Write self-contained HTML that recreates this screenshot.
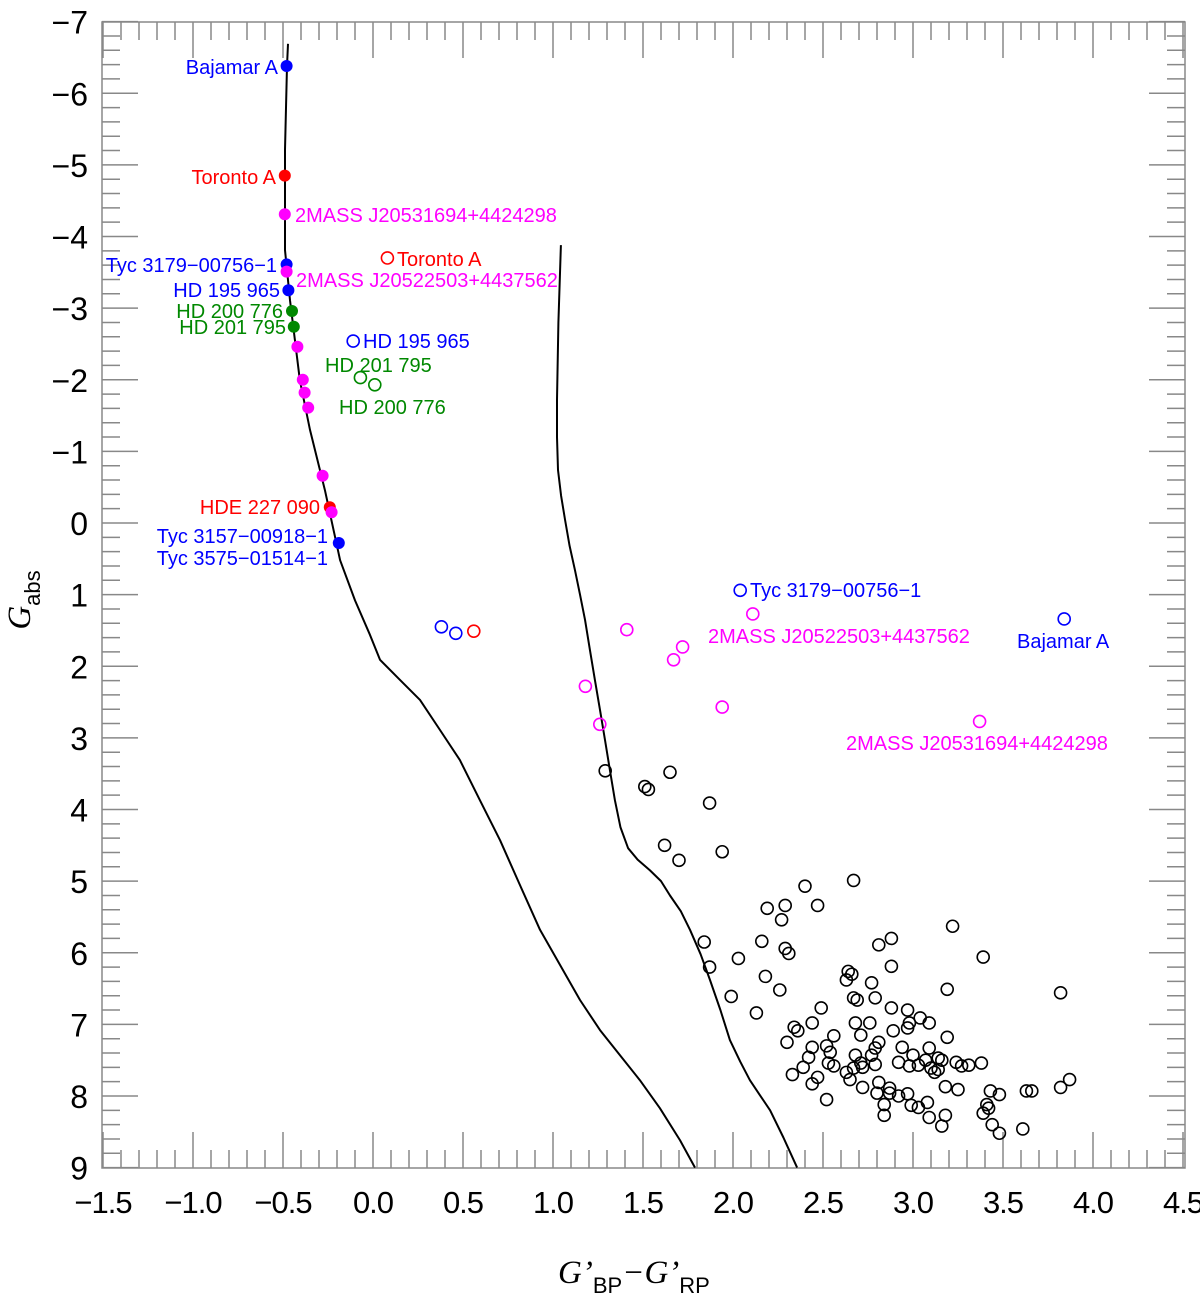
<!DOCTYPE html>
<html><head><meta charset="utf-8"><style>
body{margin:0;background:#fff}
svg{display:block;font-family:"Liberation Sans",sans-serif}
</style></head><body>
<svg id="chart" width="1200" height="1299" viewBox="0 0 1200 1299">
<g id="frame"></g><g id="curves"></g><g id="marks"></g><g id="labels"></g>
</svg>
<script>
const xTicks=[-1.5,-1.0,-0.5,0.0,0.5,1.0,1.5,2.0,2.5,3.0,3.5,4.0,4.5];
const yTicks=[-7,-6,-5,-4,-3,-2,-1,0,1,2,3,4,5,6,7,8,9];
const iso1X=[-0.472,-0.478,-0.489,-0.489,-0.461,-0.406,-0.35,-0.267,-0.183,-0.1,-0.017,0.039,0.15,0.261,0.372,0.483,0.594,0.706,0.817,0.928,1.039,1.15,1.261,1.372,1.483,1.594,1.706,1.789];
const iso1Y=[-6.69,-6.38,-5.21,-3.81,-3.11,-1.99,-1.30,-0.46,0.52,1.08,1.56,1.91,2.19,2.47,2.89,3.31,3.87,4.43,5.06,5.68,6.17,6.66,7.08,7.43,7.78,8.17,8.62,9.0];
const iso2X=[1.044,1.03,1.022,1.022,1.028,1.045,1.067,1.092,1.122,1.15,1.178,1.205,1.233,1.261,1.289,1.316,1.344,1.375,1.417,1.47,1.539,1.60,1.65,1.71,1.761,1.82,1.872,1.93,1.983,2.04,2.094,2.15,2.206,2.28,2.356];
const iso2Y=[-3.88,-2.8,-1.72,-1.2,-0.74,-0.38,-0.04,0.32,0.66,1.0,1.35,1.77,2.19,2.61,3.03,3.45,3.87,4.25,4.54,4.70,4.85,5.0,5.20,5.42,5.68,6.02,6.38,6.80,7.22,7.52,7.78,7.99,8.20,8.58,9.0];
const blackX=[1.29,1.51,1.53,1.65,1.87,1.62,1.70,1.94,2.67,2.40,2.47,2.19,2.29,2.27,3.22,1.84,2.16,2.88,2.81,2.29,2.31,3.39,2.03,1.87,2.88,2.64,2.66,2.18,2.26,2.63,2.77,3.19,3.82,1.99,2.67,2.69,2.79,2.49,2.88,2.97,2.13,2.98,2.68,2.76,3.04,3.09,2.44,2.34,2.36,2.71,2.89,2.97,3.19,2.56,2.81,2.30,2.52,2.44,2.94,2.79,3.09,2.54,2.68,2.77,3.00,3.14,3.07,3.16,2.42,2.92,2.71,3.24,2.53,2.56,2.67,2.72,2.79,2.98,3.03,3.10,3.14,3.31,3.38,3.27,2.39,2.63,3.12,2.47,2.33,2.65,2.81,3.87,2.72,2.87,3.18,3.25,3.63,3.66,3.82,2.44,2.87,2.92,2.97,2.80,3.43,3.48,3.08,2.99,3.03,2.84,2.52,3.41,3.39,3.18,3.42,2.84,3.09,3.44,3.16,3.61,3.48];
const blackY=[3.46,3.68,3.72,3.48,3.91,4.50,4.71,4.59,4.99,5.07,5.34,5.38,5.34,5.54,5.63,5.85,5.84,5.80,5.89,5.94,6.01,6.06,6.08,6.20,6.19,6.26,6.30,6.33,6.52,6.38,6.42,6.51,6.56,6.61,6.63,6.66,6.63,6.77,6.77,6.80,6.84,6.98,6.98,6.98,6.91,6.98,6.98,7.04,7.09,7.15,7.09,7.05,7.18,7.16,7.25,7.25,7.30,7.32,7.32,7.33,7.33,7.39,7.43,7.43,7.43,7.47,7.50,7.50,7.46,7.53,7.54,7.53,7.54,7.58,7.61,7.60,7.56,7.58,7.57,7.61,7.63,7.57,7.54,7.58,7.60,7.67,7.67,7.74,7.70,7.77,7.81,7.77,7.88,7.89,7.87,7.91,7.93,7.93,7.88,7.83,7.96,8.00,7.97,7.96,7.93,7.98,8.09,8.13,8.16,8.12,8.05,8.12,8.24,8.27,8.17,8.27,8.30,8.40,8.42,8.46,8.52];
const openX=[1.18,1.26,1.41,1.67,1.72,1.94,2.11,3.37,0.38,0.46,2.04,3.84,-0.11,0.56,0.08,-0.07,0.01];
const openY=[2.28,2.81,1.49,1.91,1.73,2.57,1.27,2.77,1.45,1.54,0.94,1.34,-2.54,1.51,-3.70,-2.03,-1.93];
const openC=["#f0f","#f0f","#f0f","#f0f","#f0f","#f0f","#f0f","#f0f","#00f","#00f","#00f","#00f","#00f","#f00","#f00","#080","#080"];
const filledX=[-0.48,-0.49,-0.49,-0.48,-0.48,-0.47,-0.45,-0.44,-0.42,-0.39,-0.38,-0.36,-0.28,-0.24,-0.23,-0.19];
const filledY=[-6.38,-4.85,-4.31,-3.61,-3.51,-3.25,-2.96,-2.74,-2.46,-2.00,-1.82,-1.61,-0.66,-0.22,-0.15,0.28];
const filledC=["#00f","#f00","#f0f","#00f","#f0f","#00f","#080","#080","#f0f","#f0f","#f0f","#f0f","#f0f","#f00","#f0f","#00f"];

const L=102,R=1185,T=22,B=1168;
const sx=v=>373+v*180, sy=v=>523+v*71.625;
const NS="http://www.w3.org/2000/svg";
function mk(tag,at,parent){const e=document.createElementNS(NS,tag);for(const k in at)e.setAttribute(k,at[k]);document.getElementById(parent).appendChild(e);return e;}

let fr=mk('rect',{x:L,y:T,width:R-L,height:B-T,fill:'none',stroke:'#888','stroke-width':1.5},'frame');


for(let i=0;i<=60;i++){const v=-1.5+i*0.1;const x=sx(v);const len=(i%5==0)?36:18;
 mk('line',{x1:x,y1:B,x2:x,y2:B-len,stroke:'#888','stroke-width':1.5},'frame');
 mk('line',{x1:x,y1:T,x2:x,y2:T+len,stroke:'#888','stroke-width':1.5},'frame');}
for(let i=0;i<=80;i++){const v=-7+i*0.2;const y=sy(v);const len=(i%5==0)?36:18;
 mk('line',{x1:L,y1:y,x2:L+len,y2:y,stroke:'#888','stroke-width':1.5},'frame');
 mk('line',{x1:R,y1:y,x2:R-len,y2:y,stroke:'#888','stroke-width':1.5},'frame');}
xTicks.forEach(v=>{const t=mk('text',{x:sx(v),y:1213,'font-size':31,'text-anchor':'middle','letter-spacing':-1},'labels');t.textContent=(v<0?'\u2212':'')+Math.abs(v).toFixed(1);
 
 });
yTicks.forEach(v=>{const t=mk('text',{x:88,y:sy(v)+12,'font-size':32,'text-anchor':'end'},'labels');t.textContent=(v<0?'\u2212':'')+Math.abs(v);
 
 });
function curve(xs,ys,name){const d=xs.map((x,i)=>(i?'L':'M')+sx(x).toFixed(1)+','+sy(ys[i]).toFixed(1)).join('');
 const p=mk('path',{d:d,fill:'none',stroke:'#000','stroke-width':2,'stroke-linejoin':'round'},'curves');
 
 }
curve(iso1X,iso1Y,'isochrone-left');curve(iso2X,iso2Y,'isochrone-right');
blackX.forEach((x,i)=>{const c=mk('circle',{cx:sx(x),cy:sy(blackY[i]),r:6,fill:'none',stroke:'#000','stroke-width':1.6},'marks');
 
 });
openX.forEach((x,i)=>{const c=mk('circle',{cx:sx(x),cy:sy(openY[i]),r:6,fill:'none',stroke:openC[i],'stroke-width':1.6},'marks');
 
 });
filledX.forEach((x,i)=>{const c=mk('circle',{cx:sx(x),cy:sy(filledY[i]),r:6,fill:filledC[i]},'marks');
 
 });
const ann=[["Bajamar A",278,74,"end","#00f"],["Toronto A",276,184,"end","#f00"],["2MASS J20531694+4424298",295,222,"start","#f0f"],["Toronto A",397,266,"start","#f00"],["Tyc 3179\u221200756\u22121",277,272,"end","#00f"],["2MASS J20522503+4437562",296,287,"start","#f0f"],["HD 195 965",280,297,"end","#00f"],["HD 200 776",283,318,"end","#080"],["HD 201 795",286,334,"end","#080"],["HD 195 965",363,348,"start","#00f"],["HD 201 795",325,372,"start","#080"],["HD 200 776",339,414,"start","#080"],["HDE 227 090",320,514,"end","#f00"],["Tyc 3157\u221200918\u22121",328,543,"end","#00f"],["Tyc 3575\u221201514\u22121",328,565,"end","#00f"],["Tyc 3179\u221200756\u22121",750,597,"start","#00f"],["2MASS J20522503+4437562",708,643,"start","#f0f"],["Bajamar A",1017,648,"start","#00f"],["2MASS J20531694+4424298",846,750,"start","#f0f"]];
ann.forEach(a=>{const t=mk('text',{x:a[1],y:a[2],'font-size':20,'text-anchor':a[3],fill:a[4]},'labels');t.textContent=a[0];
 
 });
</script>
<svg style="position:absolute;left:0;top:0" width="1200" height="1299">
<text x="558" y="1283" font-size="33" font-style="italic" font-family="Liberation Serif,serif">G’<tspan font-style="normal" font-family="Liberation Sans,sans-serif" font-size="22" dy="10">BP</tspan><tspan dy="-10">−</tspan><tspan font-style="italic">G’</tspan><tspan font-style="normal" font-family="Liberation Sans,sans-serif" font-size="22" dy="10">RP</tspan></text>
<text transform="translate(30,600) rotate(-90)" font-size="33" font-style="italic" font-family="Liberation Serif,serif" text-anchor="middle">G<tspan font-style="normal" font-family="Liberation Sans,sans-serif" font-size="22" dy="10">abs</tspan></text>
</svg>
</body></html>
